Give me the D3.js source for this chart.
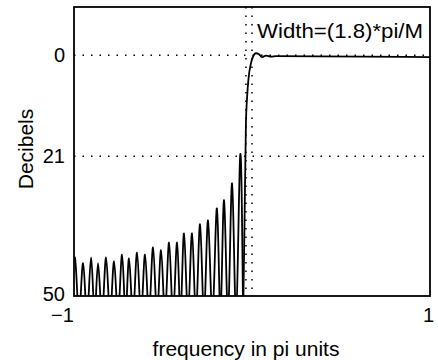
<!DOCTYPE html>
<html>
<head>
<meta charset="utf-8">
<script src="https://cdn.jsdelivr.net/npm/d3@7/dist/d3.min.js"></script>
<style>
  body { margin: 0; background: #fff; }
  text { font-family: "Liberation Sans", Arial, Helvetica, sans-serif; fill: #000; }
</style>
</head>
<body>
<div id="chart"></div>
<script>
// sidelobe peaks (frequency in pi units, attenuation in dB)
const lobeFreq = [-0.994, -0.949, -0.904, -0.865, -0.820, -0.775, -0.730, -0.691, -0.646, -0.601, -0.556,
                  -0.511, -0.466, -0.421, -0.382, -0.337, -0.292, -0.247, -0.197, -0.157, -0.112, -0.067];
const lobeDb   = [42.2, 43.2, 42.0, 43.2, 42.0, 42.8, 41.4, 42.2, 41.0, 41.4, 39.9,
                  40.5, 38.9, 38.9, 37.0, 37.0, 35.1, 34.3, 31.8, 30.1, 26.6, 21.2];
// nulls fall below the bottom of the axis
const nullDb = 54;
// transition band and passband
const edgeFreq = [-0.050, -0.042, -0.034, -0.028, -0.020, -0.006, 0.006, 0.022, 0.039, 0.056, 0.079, 0.107, 0.135, 1.0];
const edgeDb   = [54, 35, 14, 9, 5, 1.7, 0.3, -0.4, -0.2, 0.4, 0.1, 0.3, 0.2, 0.4];

const yTicks = [0, 21, 50];
const xTicks = [-1, 1];
const gridDb = [0, 21];
const gridFreq = [-0.034, 0];
const widthLabel = 'Width=(1.8)*pi/M';

const width = 438, height = 360;
const svg = d3.select('#chart').append('svg')
    .attr('width', width)
    .attr('height', height)
    .attr('viewBox', `0 0 ${width} ${height}`);

const x = d3.scaleLinear().domain([-1, 1]).range([74, 430]);
const y = d3.scaleLinear().domain([-10, 50]).range([7, 296]);

// stopband: peaks with nulls in between
const lobePoints = [[-1.02, nullDb]];
lobeFreq.forEach((f, i) => {
    if (i > 0) lobePoints.push([(lobeFreq[i - 1] + f) / 2, nullDb]);
    lobePoints.push([f, lobeDb[i]]);
});
lobePoints.push([edgeFreq[0], nullDb]);
const edgePoints = edgeFreq.map((f, i) => [f, edgeDb[i]]);

svg.append('clipPath').attr('id', 'plot-clip')
    .append('rect')
    .attr('x', x(-1)).attr('y', y(-10))
    .attr('width', x(1) - x(-1)).attr('height', y(50) - y(-10));

// dotted grid
svg.selectAll('.hgrid').data(gridDb).enter().append('line')
    .attr('class', 'hgrid')
    .attr('x1', x(-1)).attr('x2', x(1))
    .attr('y1', d => y(d)).attr('y2', d => y(d))
    .attr('stroke', '#000').attr('stroke-width', 1.5)
    .attr('stroke-dasharray', '1.5,7');

svg.selectAll('.vgrid').data(gridFreq).enter().append('line')
    .attr('class', 'vgrid')
    .attr('x1', d => x(d)).attr('x2', d => x(d))
    .attr('y1', y(-10)).attr('y2', y(50))
    .attr('stroke', '#000').attr('stroke-width', 1.5)
    .attr('stroke-dasharray', '1.5,7');

const lobeLine = d3.line()
    .x(d => x(d[0]))
    .y(d => y(d[1]))
    .curve(d3.curveNatural);
const edgeLine = d3.line()
    .x(d => x(d[0]))
    .y(d => y(d[1]))
    .curve(d3.curveMonotoneX);

const curves = svg.append('g').attr('clip-path', 'url(#plot-clip)');
curves.append('path')
    .datum(lobePoints)
    .attr('d', lobeLine)
    .attr('fill', 'none')
    .attr('stroke', '#000')
    .attr('stroke-width', 1.8);
curves.append('path')
    .datum(edgePoints)
    .attr('d', edgeLine)
    .attr('fill', 'none')
    .attr('stroke', '#000')
    .attr('stroke-width', 1.8);

// frame
svg.append('rect')
    .attr('x', x(-1)).attr('y', y(-10))
    .attr('width', x(1) - x(-1)).attr('height', y(50) - y(-10))
    .attr('fill', 'none')
    .attr('stroke', '#000')
    .attr('stroke-width', 1.8);

// axes
const yAxis = svg.append('g')
    .attr('transform', `translate(${x(-1)},0)`)
    .call(d3.axisLeft(y).tickValues(yTicks).tickSize(0).tickPadding(9));
const xAxis = svg.append('g')
    .attr('transform', `translate(0,${y(50)})`)
    .call(d3.axisBottom(x).tickValues(xTicks).tickSize(0).tickPadding(12)
        .tickFormat(d3.format('d')));
[yAxis, xAxis].forEach(g => {
    g.select('.domain').remove();
    g.selectAll('text')
        .style('font-family', '"Liberation Sans", Arial, Helvetica, sans-serif')
        .style('font-size', '20px')
        .attr('fill', '#000');
});
yAxis.selectAll('.tick text').filter(d => d === 50).attr('dy', '0.2em');
xAxis.selectAll('.tick text').attr('dx', d => d < 0 ? -12 : -2);

svg.append('text')
    .attr('transform', 'translate(33,149) rotate(-90)')
    .attr('text-anchor', 'middle')
    .style('font-size', '21px')
    .text('Decibels');

svg.append('text')
    .attr('x', 246).attr('y', 356)
    .attr('text-anchor', 'middle')
    .style('font-size', '21px')
    .text('frequency in pi units');

svg.append('text')
    .attr('x', 257).attr('y', 38)
    .attr('textLength', 166)
    .attr('lengthAdjust', 'spacingAndGlyphs')
    .style('font-size', '20px')
    .text(widthLabel);
</script>
</body>
</html>
